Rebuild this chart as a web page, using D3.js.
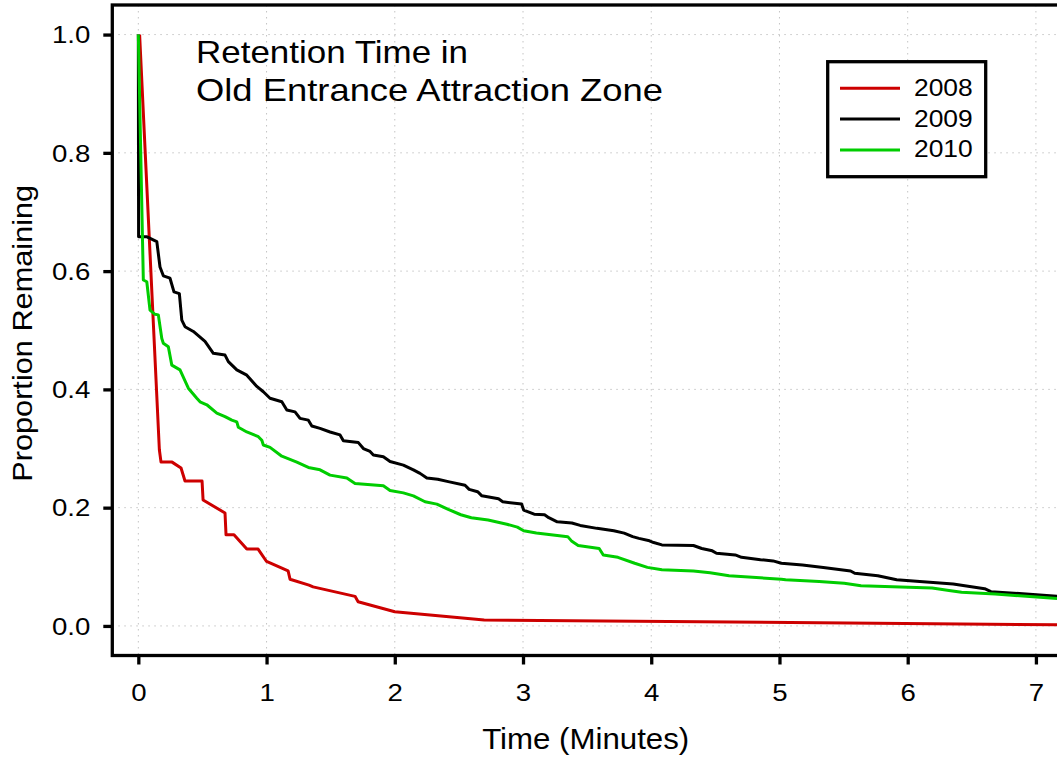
<!DOCTYPE html>
<html>
<head>
<meta charset="utf-8">
<script src="https://cdn.jsdelivr.net/npm/d3@7"></script>
<style>
  html, body { margin: 0; padding: 0; background: #fff; }
  svg { display: block; }
  text { font-family: "Liberation Sans", Arial, Helvetica, sans-serif; fill: #000; }
</style>
</head>
<body>
<svg id="chart" width="1057" height="759"></svg>
<script>
// ---- data: proportion of fish still in the zone vs. time (minutes) ----
const seriesNames = ["2008", "2009", "2010"];
const seriesColors = ["#CD0000", "#000000", "#00CD00"];

const time2008 = [0.01, 0.164, 0.177, 0.263, 0.333, 0.364, 0.497, 0.505, 0.676, 0.684, 0.746, 0.846,
  0.934, 1.0, 1.168, 1.183, 1.331, 1.363, 1.690, 1.714, 2.0, 2.697, 7.18];
const prop2008 = [1.0, 0.298, 0.277, 0.277, 0.267, 0.245, 0.245, 0.213, 0.191, 0.154, 0.154, 0.130,
  0.130, 0.109, 0.093, 0.079, 0.069, 0.066, 0.050, 0.041, 0.024, 0.010, 0.002];

const time2009 = [0, 0.002, 0.068, 0.144, 0.169, 0.195, 0.247, 0.278, 0.320, 0.339, 0.364, 0.429,
  0.520, 0.585, 0.676, 0.702, 0.768, 0.846, 0.924, 0.975, 1.027, 1.119, 1.158, 1.222, 1.261, 1.326,
  1.353, 1.417, 1.495, 1.573, 1.599, 1.716, 1.755, 1.807, 1.833, 1.911, 1.963, 2.067, 2.145, 2.197,
  2.250, 2.335, 2.417, 2.548, 2.580, 2.646, 2.679, 2.809, 2.842, 2.989, 3.005, 3.087, 3.168, 3.201,
  3.267, 3.381, 3.446, 3.577, 3.708, 3.789, 3.855, 3.904, 3.986, 4.019, 4.083, 4.329, 4.394, 4.476,
  4.509, 4.655, 4.704, 4.852, 4.950, 5.015, 5.179, 5.342, 5.555, 5.587, 5.767, 5.914, 6.094, 6.355,
  6.600, 6.649, 7.18];
const prop2009 = [1.0, 0.658, 0.658, 0.650, 0.607, 0.592, 0.588, 0.565, 0.562, 0.517, 0.506, 0.498,
  0.481, 0.461, 0.458, 0.447, 0.433, 0.424, 0.405, 0.396, 0.385, 0.379, 0.365, 0.362, 0.351, 0.348,
  0.338, 0.334, 0.328, 0.323, 0.313, 0.310, 0.300, 0.295, 0.289, 0.286, 0.278, 0.272, 0.264, 0.258,
  0.250, 0.248, 0.244, 0.238, 0.231, 0.227, 0.220, 0.215, 0.210, 0.206, 0.196, 0.189, 0.188, 0.183,
  0.176, 0.174, 0.170, 0.165, 0.161, 0.157, 0.151, 0.148, 0.144, 0.141, 0.137, 0.136, 0.131, 0.127,
  0.123, 0.120, 0.116, 0.112, 0.110, 0.106, 0.103, 0.099, 0.093, 0.089, 0.085, 0.078, 0.075, 0.071,
  0.063, 0.058, 0.050];

const time2010 = [0, 0.039, 0.066, 0.091, 0.130, 0.156, 0.183, 0.195, 0.234, 0.261, 0.325, 0.390,
  0.456, 0.481, 0.534, 0.612, 0.676, 0.729, 0.768, 0.780, 0.846, 0.936, 0.963, 0.975, 1.027, 1.119,
  1.236, 1.326, 1.417, 1.495, 1.626, 1.690, 1.911, 1.963, 2.067, 2.145, 2.236, 2.328, 2.417, 2.515,
  2.597, 2.728, 2.874, 2.956, 3.005, 3.104, 3.218, 3.349, 3.381, 3.430, 3.594, 3.626, 3.740, 3.871,
  3.970, 4.083, 4.329, 4.459, 4.607, 5.015, 5.048, 5.309, 5.505, 5.636, 6.191, 6.322, 6.420, 6.682,
  7.18];
const prop2010 = [1.0, 0.585, 0.582, 0.534, 0.527, 0.526, 0.486, 0.478, 0.472, 0.441, 0.433, 0.402,
  0.385, 0.379, 0.374, 0.360, 0.354, 0.348, 0.345, 0.336, 0.328, 0.320, 0.314, 0.306, 0.302, 0.287,
  0.277, 0.268, 0.264, 0.255, 0.250, 0.241, 0.237, 0.229, 0.225, 0.220, 0.210, 0.206, 0.197, 0.188,
  0.183, 0.179, 0.172, 0.167, 0.161, 0.157, 0.154, 0.151, 0.143, 0.136, 0.131, 0.120, 0.116, 0.106,
  0.099, 0.095, 0.093, 0.090, 0.085, 0.079, 0.078, 0.075, 0.072, 0.068, 0.064, 0.060, 0.057, 0.054,
  0.046];

const xTicks = [0, 1, 2, 3, 4, 5, 6, 7];
const yTicks = [0, 0.2, 0.4, 0.6, 0.8, 1.0];
const titleLines = ["Retention Time in", "Old Entrance Attraction Zone"];
const xLabel = "Time (Minutes)";
const yLabel = "Proportion Remaining";

// ---- layout ----
const plot = { left: 112.3, right: 1059, top: 5, bottom: 655.5 };
const svg = d3.select("#chart");

const x = d3.scaleLinear().domain([-0.203, 7.18]).range([plot.left, plot.right]);
const y = d3.scaleLinear().domain([-0.05, 1.05]).range([plot.bottom, plot.top]);

const series = [
  { name: seriesNames[0], color: seriesColors[0], values: time2008.map((t, i) => ({ t, p: prop2008[i] })) },
  { name: seriesNames[1], color: seriesColors[1], values: time2009.map((t, i) => ({ t, p: prop2009[i] })) },
  { name: seriesNames[2], color: seriesColors[2], values: time2010.map((t, i) => ({ t, p: prop2010[i] })) }
];

svg.append("defs").append("clipPath").attr("id", "plot-clip")
  .append("rect")
  .attr("x", plot.left).attr("y", plot.top)
  .attr("width", plot.right - plot.left).attr("height", plot.bottom - plot.top);

// dotted grid
const grid = svg.append("g").attr("class", "grid")
  .attr("stroke", "#c4c4c4").attr("stroke-width", 1).attr("stroke-dasharray", "1.5,4.5");
grid.selectAll("line.gx").data(xTicks).join("line").attr("class", "gx")
  .attr("x1", d => x(d)).attr("x2", d => x(d))
  .attr("y1", plot.top).attr("y2", plot.bottom);
grid.selectAll("line.gy").data(yTicks).join("line").attr("class", "gy")
  .attr("x1", plot.left).attr("x2", plot.right)
  .attr("y1", d => y(d)).attr("y2", d => y(d));

// title inside the plot
const title = svg.append("g").attr("class", "title");
title.selectAll("text").data(titleLines).join("text")
  .attr("x", 196)
  .attr("y", (d, i) => [62.7, 100.5][i])
  .attr("font-size", 32)
  .attr("textLength", (d, i) => [272, 467][i])
  .attr("lengthAdjust", "spacingAndGlyphs")
  .text(d => d);

// survival curves
const line = d3.line().x(d => x(d.t)).y(d => y(d.p));
svg.append("g").attr("clip-path", "url(#plot-clip)")
  .selectAll("path").data(series).join("path")
  .attr("d", d => line(d.values))
  .attr("fill", "none")
  .attr("stroke", d => d.color)
  .attr("stroke-width", 3)
  .attr("stroke-linejoin", "round");

// axes
const sx = 1.15;
const yAxis = svg.append("g").attr("transform", `translate(${plot.left},0)`)
  .call(d3.axisLeft(y).tickValues(yTicks).tickSize(9).tickFormat(d3.format(".1f")));
const xAxis = svg.append("g").attr("transform", `translate(0,${plot.bottom})`)
  .call(d3.axisBottom(x).tickValues(xTicks).tickSize(9).tickFormat(d3.format("d")));
[yAxis, xAxis].forEach(ax => {
  ax.attr("font-family", null).attr("font-size", null);
  ax.select(".domain").remove();
  ax.selectAll(".tick line").attr("stroke", "#000").attr("stroke-width", 3.3);
  ax.selectAll(".tick text").attr("font-size", 24).attr("fill", "#000");
});
yAxis.selectAll(".tick text")
  .attr("x", -22 / sx).attr("dy", "0.34em")
  .attr("transform", `scale(${sx},1)`);
xAxis.selectAll(".tick text")
  .attr("y", 45.2).attr("dy", 0)
  .attr("transform", `scale(${sx},1)`);

// frame
svg.append("rect")
  .attr("x", plot.left).attr("y", plot.top)
  .attr("width", plot.right - plot.left).attr("height", plot.bottom - plot.top)
  .attr("fill", "none").attr("stroke", "#000").attr("stroke-width", 3.3);

// axis titles
svg.append("text")
  .attr("x", 585.7).attr("y", 748.7)
  .attr("text-anchor", "middle")
  .attr("font-size", 30)
  .attr("textLength", 207).attr("lengthAdjust", "spacingAndGlyphs")
  .text(xLabel);
svg.append("text")
  .attr("transform", "translate(32,333.3) rotate(-90)")
  .attr("text-anchor", "middle")
  .attr("font-size", 28)
  .attr("textLength", 297).attr("lengthAdjust", "spacingAndGlyphs")
  .text(yLabel);

// legend
const legend = svg.append("g").attr("class", "legend");
legend.append("rect")
  .attr("x", 827.7).attr("y", 61.7).attr("width", 158).attr("height", 115)
  .attr("fill", "#fff").attr("stroke", "#000").attr("stroke-width", 3.3);
const rows = legend.selectAll("g.row").data(series).join("g").attr("class", "row")
  .attr("transform", (d, i) => `translate(0,${88.3 + i * 30.8})`);
rows.append("line")
  .attr("x1", 840).attr("x2", 900).attr("y1", 0).attr("y2", 0)
  .attr("stroke", d => d.color).attr("stroke-width", 3);
rows.append("text")
  .attr("transform", "translate(914,7.4) scale(1.1,1)")
  .attr("font-size", 24)
  .text(d => d.name);
</script>
</body>
</html>
